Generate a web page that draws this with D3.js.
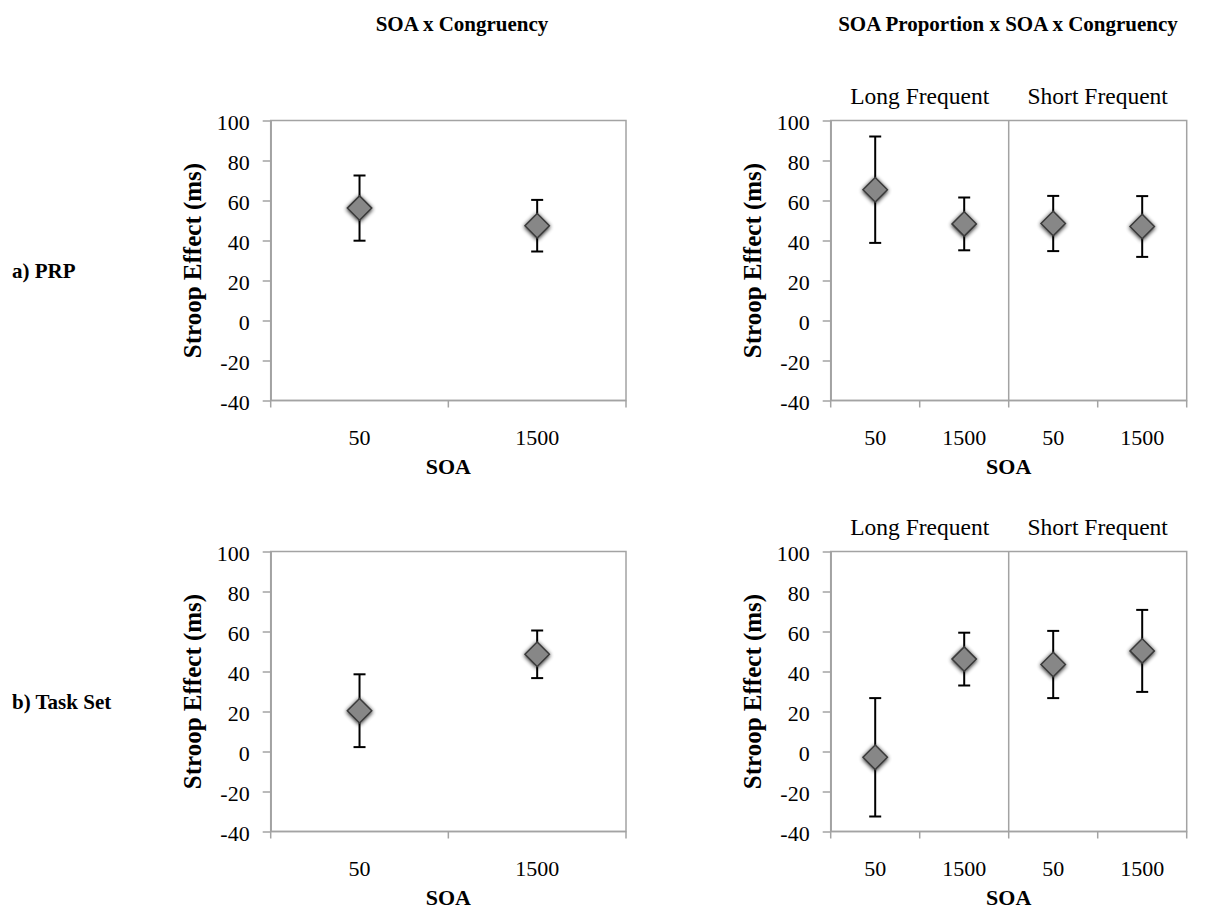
<!DOCTYPE html>
<html>
<head>
<meta charset="utf-8">
<script src="https://cdn.jsdelivr.net/npm/d3@7/dist/d3.min.js"></script>
<style>
  html, body { margin: 0; padding: 0; background: #fff; }
  svg { display: block; }
  text { font-family: "Liberation Serif", "Times New Roman", serif; fill: #000; }
</style>
</head>
<body>
<svg id="chart" width="1206" height="913"></svg>
<script>
// ---- data ----
const soaLevels = ["50", "1500"];
const proportionGroups = ["Long Frequent", "Short Frequent"];
const yTicks = [-40, -20, 0, 20, 40, 60, 80, 100];
const columnTitles = ["SOA x Congruency", "SOA Proportion x SOA x Congruency"];
const rowLabels = ["a) PRP", "b) Task Set"];

// Stroop effect means (ms) and error-bar half widths
const prpSoaMean = [56.2, 47.4];
const prpSoaErr = [16.3, 12.9];
const prpPropMean = [65.4, 48.3, 48.5, 47.0];
const prpPropErr = [26.6, 13.2, 13.8, 15.2];
const taskSoaMean = [20.4, 48.6];
const taskSoaErr = [18.2, 11.9];
const taskPropMean = [-2.9, 46.2, 43.5, 50.3];
const taskPropErr = [29.6, 13.2, 16.8, 20.5];

// ---- layout ----
const svg = d3.select("#chart");
const axisGray = "#a3a3a3";

const defs = svg.append("defs");
const shadow = defs.append("filter").attr("id", "soft").attr("x", "-50%").attr("y", "-50%")
  .attr("width", "200%").attr("height", "200%");
shadow.append("feGaussianBlur").attr("in", "SourceAlpha").attr("stdDeviation", 2.2).attr("result", "b");
shadow.append("feOffset").attr("in", "b").attr("dx", 0).attr("dy", 0.5).attr("result", "o");
shadow.append("feComponentTransfer").attr("in", "o").attr("result", "s")
  .append("feFuncA").attr("type", "linear").attr("slope", 0.9);
const merge = shadow.append("feMerge");
merge.append("feMergeNode").attr("in", "s");
merge.append("feMergeNode").attr("in", "SourceGraphic");

const cols = [
  { left: 270.7, right: 626 },
  { left: 830.7, right: 1186.7 }
];
const rows = [
  { top: 120.5, bottom: 400.5 },
  { top: 551.5, bottom: 831.5 }
];

function panel(col, row, means, errs, grouped) {
  const { left, right } = cols[col];
  const { top, bottom } = rows[row];
  const g = svg.append("g");

  const keys = grouped
    ? proportionGroups.flatMap(p => soaLevels.map(s => p + "|" + s))
    : soaLevels.slice();
  const x = d3.scaleBand().domain(keys).range([left, right]).padding(0);
  const y = d3.scaleLinear().domain([-40, 100]).range([bottom, top]);

  // plot frame
  g.append("rect")
    .attr("x", left).attr("y", top)
    .attr("width", right - left).attr("height", bottom - top)
    .attr("fill", "none").attr("stroke", axisGray).attr("stroke-width", 1.5);

  // y axis
  const ya = g.append("g").attr("transform", `translate(${left},0)`)
    .call(d3.axisLeft(y).tickValues(yTicks).tickFormat(d => String(d))
      .tickSize(8).tickPadding(13).tickSizeOuter(0));
  ya.select(".domain").attr("stroke", axisGray).attr("stroke-width", 1.5);
  ya.selectAll(".tick line").attr("stroke", axisGray).attr("stroke-width", 1.5);
  ya.selectAll(".tick text")
    .attr("font-size", 22).attr("fill", "#000")
    .attr("dy", "0.42em");

  // x axis: ticks at band boundaries, labels at band centres
  const edges = keys.map(k => x(k)).concat([right]);
  const xa = g.append("g");
  xa.append("line").attr("x1", left).attr("x2", right).attr("y1", bottom).attr("y2", bottom)
    .attr("stroke", axisGray).attr("stroke-width", 1.5);
  xa.selectAll("line.edge").data(edges).join("line").attr("class", "edge")
    .attr("x1", d => d).attr("x2", d => d).attr("y1", bottom).attr("y2", bottom + 7)
    .attr("stroke", axisGray).attr("stroke-width", 1.5);
  xa.selectAll("text.lab").data(keys).join("text").attr("class", "lab")
    .attr("x", d => x(d) + x.bandwidth() / 2).attr("y", bottom + 44)
    .attr("text-anchor", "middle").attr("font-size", 22)
    .text(d => d.split("|").pop());

  // separator between proportion groups
  if (grouped) {
    const mid = x(keys[soaLevels.length]);
    g.append("line").attr("x1", mid).attr("x2", mid).attr("y1", top).attr("y2", bottom)
      .attr("stroke", axisGray).attr("stroke-width", 1.5);
    g.selectAll("text.grp").data(proportionGroups).join("text").attr("class", "grp")
      .attr("x", (d, i) => {
        const a = x(keys[i * soaLevels.length]);
        return a + x.bandwidth() * soaLevels.length / 2;
      })
      .attr("y", top - 17)
      .attr("text-anchor", "middle").attr("font-size", 23.5)
      .text(d => d);
  }

  // axis titles
  g.append("text")
    .attr("x", (left + right) / 2).attr("y", bottom + 73)
    .attr("text-anchor", "middle").attr("font-size", 22).attr("font-weight", "bold")
    .text("SOA");
  g.append("text")
    .attr("transform", `translate(${left - 70},${(top + bottom) / 2}) rotate(-90)`)
    .attr("text-anchor", "middle").attr("font-size", 25).attr("font-weight", "bold")
    .text("Stroop Effect (ms)");

  // error bars
  const data = keys.map((k, i) => ({ k, m: means[i], e: errs[i] }));
  const cap = 6;
  const eb = g.append("g").attr("stroke", "#000").attr("stroke-width", 2);
  eb.selectAll("line.v").data(data).join("line").attr("class", "v")
    .attr("x1", d => x(d.k) + x.bandwidth() / 2).attr("x2", d => x(d.k) + x.bandwidth() / 2)
    .attr("y1", d => y(d.m + d.e)).attr("y2", d => y(d.m - d.e));
  eb.selectAll("line.t").data(data).join("line").attr("class", "t")
    .attr("x1", d => x(d.k) + x.bandwidth() / 2 - cap).attr("x2", d => x(d.k) + x.bandwidth() / 2 + cap)
    .attr("y1", d => y(d.m + d.e)).attr("y2", d => y(d.m + d.e));
  eb.selectAll("line.b").data(data).join("line").attr("class", "b")
    .attr("x1", d => x(d.k) + x.bandwidth() / 2 - cap).attr("x2", d => x(d.k) + x.bandwidth() / 2 + cap)
    .attr("y1", d => y(d.m - d.e)).attr("y2", d => y(d.m - d.e));

  // diamond markers
  const diamond = d3.symbol().type(d3.symbolDiamond2).size(380);
  g.selectAll("path.pt").data(data).join("path").attr("class", "pt")
    .attr("transform", d => `translate(${x(d.k) + x.bandwidth() / 2},${y(d.m)})`)
    .attr("d", diamond)
    .attr("fill", "#878787").attr("stroke", "#3a3a3a").attr("stroke-width", 1.5)
    .attr("filter", "url(#soft)");
}

panel(0, 0, prpSoaMean, prpSoaErr, false);
panel(1, 0, prpPropMean, prpPropErr, true);
panel(0, 1, taskSoaMean, taskSoaErr, false);
panel(1, 1, taskPropMean, taskPropErr, true);

// column titles
svg.selectAll("text.coltitle").data(columnTitles).join("text").attr("class", "coltitle")
  .attr("x", (d, i) => [462, 1008][i]).attr("y", 31)
  .attr("text-anchor", "middle").attr("font-size", 21).attr("font-weight", "bold")
  .text(d => d);

// row labels
svg.selectAll("text.rowlab").data(rowLabels).join("text").attr("class", "rowlab")
  .attr("x", 12).attr("y", (d, i) => [278, 709][i])
  .attr("font-size", 21).attr("font-weight", "bold")
  .text(d => d);
</script>
</body>
</html>
